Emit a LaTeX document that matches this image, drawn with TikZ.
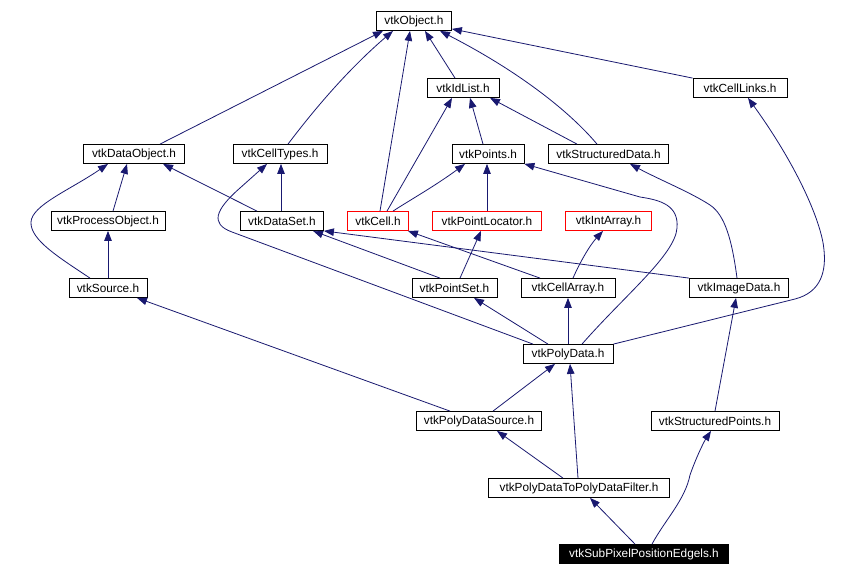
\documentclass[tikz,border=0pt]{standalone}
\usepackage{fontspec}
\setmainfont{Liberation Sans}
\usetikzlibrary{arrows.meta}
\definecolor{edgeblue}{HTML}{191970}
\definecolor{boxred}{HTML}{FF0000}
\begin{document}
\begin{tikzpicture}[x=1pt,y=-1pt,
  box/.style={draw=black,line width=0.8pt,fill=white,minimum height=19pt,inner sep=0pt,
    font=\fontsize{11.8}{14}\selectfont},
  redbox/.style={box,draw=boxred},
  blackbox/.style={box,fill=black,text=white},
  edge/.style={draw=edgeblue,line width=0.8pt,-{Triangle[length=10pt,width=7.5pt]}}]
\useasboundingbox[fill=white] (0,0) rectangle (862,576);
% nodes
\node[box,minimum width=75pt] (obj) at (414,21) {vtkObject.h};
\node[box,minimum width=72pt] (idlist) at (463,88) {vtkIdList.h};
\node[box,minimum width=94pt] (celllinks) at (740,88) {vtkCellLinks.h};
\node[box,minimum width=101pt] (dataobj) at (134,154) {vtkDataObject.h};
\node[box,minimum width=94pt] (celltypes) at (280,154) {vtkCellTypes.h};
\node[box,minimum width=72pt] (points) at (488,154) {vtkPoints.h};
\node[box,minimum width=120pt] (structdata) at (608.5,154) {vtkStructuredData.h};
\node[box,minimum width=114pt] (procobj) at (108,221) {vtkProcessObject.h};
\node[box,minimum width=83pt] (dataset) at (282,221) {vtkDataSet.h};
\node[redbox,minimum width=61pt] (cell) at (378,221) {vtkCell.h};
\node[redbox,minimum width=109pt] (ptloc) at (487,221) {vtkPointLocator.h};
\node[redbox,minimum width=86pt] (intarr) at (608.5,221) {vtkIntArray.h};
\node[box,minimum width=78pt] (source) at (108,288) {vtkSource.h};
\node[box,minimum width=85pt] (ptset) at (454.5,288) {vtkPointSet.h};
\node[box,minimum width=94pt] (cellarr) at (568,288) {vtkCellArray.h};
\node[box,minimum width=99pt] (imgdata) at (739,288) {vtkImageData.h};
\node[box,minimum width=90pt] (polydata) at (568,354) {vtkPolyData.h};
\node[box,minimum width=125pt] (pdsrc) at (479,421) {vtkPolyDataSource.h};
\node[box,minimum width=128pt] (stpts) at (715,421) {vtkStructuredPoints.h};
\node[box,minimum width=181pt] (pdf) at (579,488) {vtkPolyDataToPolyDataFilter.h};
\node[blackbox,minimum width=169pt] (subpix) at (644,554) {vtkSubPixelPositionEdgels.h};
% edges (child -> parent)
\draw[edge] ([xshift=26pt]dataobj.north) -- ([xshift=-31pt]obj.south);
\draw[edge] ([xshift=8pt]celltypes.north) .. controls (310,115) and (345,72) .. ([xshift=-21pt]obj.south);
\draw[edge] ([xshift=2pt]cell.north) -- ([xshift=-4pt]obj.south);
\draw[edge] ([xshift=-8pt]idlist.north) -- ([xshift=11pt]obj.south);
\draw[edge] ([xshift=-11.5pt]structdata.north) .. controls (570,112) and (520,72) .. ([xshift=26pt]obj.south);
\draw[edge] (celllinks.north west) -- ([yshift=2pt]obj.south east);
\draw[edge] ([xshift=9pt]cell.north) -- ([xshift=-11pt]idlist.south);
\draw[edge] ([xshift=-5pt]points.north) -- ([xshift=7pt]idlist.south);
\draw[edge] ([xshift=-31.5pt]structdata.north) -- ([xshift=27pt]idlist.south);
\draw[edge] (polydata.north east) -- (795,299) .. controls (822,292) and (826,270) .. (824,250)
   .. controls (822,225) and (800,170) .. ([xshift=8pt]celllinks.south);
\draw[edge] ([xshift=5pt]procobj.north) -- ([xshift=-7pt]dataobj.south);
\draw[edge] ([xshift=-18pt]source.north) .. controls (60,258) and (30,240) .. (31,222)
   .. controls (32,205) and (70,190) .. ([xshift=-26pt]dataobj.south);
\draw[edge] ([xshift=-25pt]dataset.north) -- ([xshift=29pt]dataobj.south);
\draw[edge] ([xshift=-1pt]dataset.north) -- ([xshift=1pt]celltypes.south);
\draw[edge] ([xshift=-35pt]polydata.north) -- (232,232) .. controls (210,224) and (215,210) .. (240,188)
   -- ([xshift=-13pt]celltypes.south);
\draw[edge] ([xshift=15pt]cell.north) .. controls (410,200) and (435,186) .. ([xshift=-23pt]points.south);
\draw[edge] (ptloc.north) -- ([xshift=-1pt]points.south);
\draw[edge] ([xshift=14pt]polydata.north) .. controls (625,295) and (675,255) .. (677,228)
   .. controls (679,205) and (660,200) .. (640,197) -- (points.south east);
\draw[edge] ([xshift=-2pt]imgdata.north) .. controls (732,240) and (725,215) .. (710,205)
   .. controls (690,192) and (660,180) .. ([xshift=21.5pt]structdata.south);
\draw[edge] (source.north) -- (procobj.south);
\draw[edge] ([xshift=-14.5pt]ptset.north) -- ([xshift=31pt]dataset.south);
\draw[edge] (imgdata.north west) -- (dataset.south east);
\draw[edge] ([xshift=-28pt]cellarr.north) -- ([xshift=-1pt]cell.south east);
\draw[edge] ([xshift=5.5pt]ptset.north) -- ([xshift=-6pt]ptloc.south);
\draw[edge] ([xshift=5pt]cellarr.north) .. controls (580,262) and (590,245) .. ([xshift=-5.5pt]intarr.south);
\draw[edge] ([xshift=-29pt]pdsrc.north) -- ([xshift=29pt]source.south);
\draw[edge] ([xshift=-20pt]polydata.north) -- ([xshift=19.5pt]ptset.south);
\draw[edge] (polydata.north) -- (cellarr.south);
\draw[edge] (stpts.north) -- ([xshift=-3pt]imgdata.south);
\draw[edge] ([xshift=14pt]pdsrc.north) -- ([xshift=-13pt]polydata.south);
\draw[edge] ([xshift=-1pt]pdf.north) -- ([xshift=2pt]polydata.south);
\draw[edge] ([xshift=-16pt]pdf.north) -- ([xshift=18pt]pdsrc.south);
\draw[edge] ([xshift=-9pt]subpix.north) -- ([xshift=11pt]pdf.south);
\draw[edge] ([xshift=8pt]subpix.north) .. controls (665,520) and (685,500) .. (690,475)
   .. controls (697,455) and (705,440) .. ([xshift=-4pt]stpts.south);
\end{tikzpicture}
\end{document}
